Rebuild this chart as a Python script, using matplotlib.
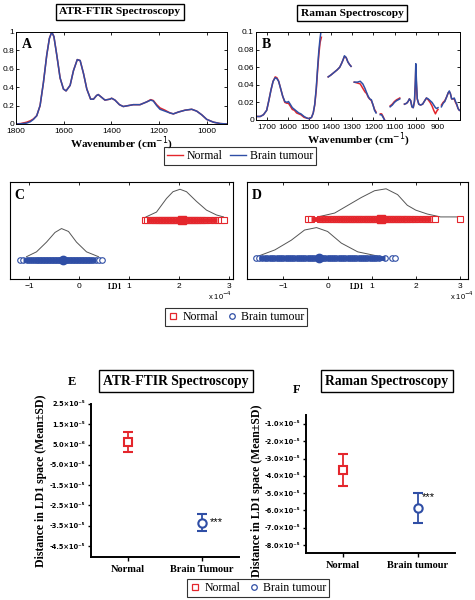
import numpy as np
import matplotlib
matplotlib.use('Agg')
import matplotlib.pyplot as plt
from matplotlib.lines import Line2D

plt.rcParams['font.family'] = 'Liberation Sans'
SERIF = 'Liberation Serif'

RED = '#e4262c'
BLUE = '#2f4ea5'
GREY = '#555555'
nan = np.nan

# ---- A: ATR-FTIR mean spectra ----
ftir_wn = [1800, 1780, 1755, 1740, 1727, 1713, 1699, 1685, 1671, 1660, 1650, 1641, 1629, 1615,
           1601, 1590, 1573, 1559, 1543, 1531, 1517, 1503, 1487, 1475, 1462, 1455, 1441, 1427,
           1406, 1399, 1385, 1366, 1350, 1329, 1308, 1280, 1252, 1235, 1224, 1210, 1196, 1175,
           1154, 1140, 1119, 1091, 1063, 1042, 1021, 1000, 972, 944, 916]
ftir_tumour = [0.0, 0.002, 0.01, 0.025, 0.05, 0.09, 0.20, 0.45, 0.75, 0.93, 1.0, 0.95, 0.75, 0.50,
               0.38, 0.36, 0.42, 0.58, 0.70, 0.69, 0.55, 0.38, 0.27, 0.27, 0.31, 0.32, 0.29, 0.26,
               0.27, 0.28, 0.26, 0.21, 0.19, 0.20, 0.21, 0.21, 0.24, 0.26, 0.25, 0.20, 0.16, 0.14,
               0.12, 0.11, 0.13, 0.15, 0.16, 0.14, 0.10, 0.05, 0.02, 0.005, 0.0]
ftir_normal = [0.0, 0.005, 0.02, 0.035, 0.055, 0.09, 0.20, 0.45, 0.75, 0.93, 1.0, 0.95, 0.75, 0.50,
               0.38, 0.36, 0.42, 0.58, 0.70, 0.69, 0.55, 0.38, 0.27, 0.27, 0.31, 0.32, 0.29, 0.26,
               0.27, 0.28, 0.26, 0.21, 0.19, 0.20, 0.21, 0.21, 0.24, 0.265, 0.255, 0.21, 0.175, 0.15,
               0.12, 0.11, 0.13, 0.15, 0.16, 0.14, 0.10, 0.05, 0.02, 0.005, 0.0]

# ---- B: Raman mean spectra (gaps = removed regions) ----
raman_wn = [1750, 1730, 1715, 1700, 1690, 1680, 1670, 1660, 1652, 1644, 1635, 1625, 1615, 1605,
            1598, 1590, 1580, 1570, 1560, 1550, 1540, 1525, 1510, 1500, 1490, 1482, 1475, 1468,
            1462, 1456, 1450, 1444, nan,
            1412, 1400, 1385, 1370, 1358, 1350, 1343, 1336, 1328, 1320, 1312, 1305, nan,
            1290, 1275, 1262, 1250, 1240, 1232, 1225, 1218, 1210, 1202, 1195, 1188, nan,
            1168, 1162, 1155, 1148, nan,
            1122, 1112, 1102, 1092, 1084, 1077, nan,
            1055, 1045, 1038, 1032, 1026, 1020, 1014, 1008, 1004, 1002, 999, 995, 988, 980, 970,
            960, 952, 944, 935, 926, 918, 910, 904, 898, nan,
            882, 874, 866, 858, 850, 845, 840, 834, 828, 822, 816, 810, 804, 798]
raman_tumour = [0.004, 0.004, 0.006, 0.011, 0.022, 0.034, 0.044, 0.048, 0.047, 0.044, 0.036, 0.027,
                0.021, 0.020, 0.021, 0.018, 0.014, 0.012, 0.010, 0.008, 0.007, 0.004, 0.002, 0.0015,
                0.003, 0.008, 0.018, 0.036, 0.058, 0.078, 0.093, 0.104, nan,
                0.049, 0.051, 0.054, 0.057, 0.060, 0.064, 0.068, 0.073, 0.071, 0.066, 0.063,
                0.061, nan,
                0.043, 0.043, 0.044, 0.041, 0.036, 0.031, 0.027, 0.024, 0.023, 0.017, 0.011, 0.008,
                nan,
                0.006, 0.006, 0.003, 0.0, nan,
                0.015, 0.017, 0.020, 0.022, 0.023, 0.024, nan,
                0.018, 0.019, 0.021, 0.024, 0.022, 0.015, 0.014, 0.022, 0.045, 0.064, 0.045, 0.024,
                0.018, 0.017, 0.018, 0.022, 0.025, 0.024, 0.022, 0.020, 0.017, 0.014, 0.013, 0.014,
                nan,
                0.015, 0.019, 0.021, 0.026, 0.031, 0.033, 0.030, 0.024, 0.024, 0.025, 0.021, 0.018,
                0.013, 0.011]
raman_normal = [0.004, 0.004, 0.006, 0.011, 0.022, 0.034, 0.044, 0.049, 0.048, 0.044, 0.036, 0.027,
                0.020, 0.019, 0.019, 0.016, 0.012, 0.011, 0.008, 0.007, 0.006, 0.003, 0.002, 0.0015,
                0.003, 0.008, 0.017, 0.034, 0.055, 0.074, 0.088, 0.094, nan,
                0.049, 0.051, 0.054, 0.057, 0.060, 0.064, 0.068, 0.072, 0.071, 0.066, 0.063,
                0.061, nan,
                0.043, 0.042, 0.041, 0.036, 0.032, 0.030, 0.026, 0.024, 0.022, 0.017, 0.012, 0.009,
                nan,
                0.007, 0.007, 0.004, 0.0, nan,
                0.016, 0.018, 0.021, 0.023, 0.024, 0.025, nan,
                0.018, 0.019, 0.021, 0.024, 0.022, 0.015, 0.014, 0.021, 0.040, 0.058, 0.040, 0.024,
                0.018, 0.017, 0.018, 0.022, 0.025, 0.023, 0.020, 0.016, 0.011, 0.007, 0.010, 0.012,
                nan,
                0.017, 0.020, 0.022, 0.026, 0.031, 0.032, 0.030, 0.024, 0.024, 0.024, 0.020, 0.017,
                0.013, 0.011]

# ---- C / D: LD1 scores (x 1e-4) ----
c_normal = [1.32, 1.36, 1.41, 1.46, 1.50, 1.54, 1.57, 1.60, 1.63, 1.66, 1.69, 1.72, 1.75, 1.78,
            1.81, 1.84, 1.87, 1.90, 1.93, 1.96, 1.99, 2.02, 2.05, 2.08, 2.11, 2.14, 2.17, 2.20,
            2.23, 2.26, 2.29, 2.32, 2.35, 2.38, 2.41, 2.45, 2.49, 2.54, 2.62, 2.70, 2.76, 2.83, 2.90]
c_tumour = [-1.18, -1.12, -1.05, -1.00, -0.96, -0.92, -0.88, -0.85, -0.82, -0.79, -0.76, -0.73,
            -0.70, -0.67, -0.64, -0.61, -0.58, -0.55, -0.52, -0.49, -0.46, -0.43, -0.40, -0.37,
            -0.34, -0.31, -0.28, -0.25, -0.22, -0.19, -0.16, -0.13, -0.10, -0.07, -0.04, -0.01,
            0.02, 0.05, 0.08, 0.11, 0.14, 0.17, 0.20, 0.24, 0.28, 0.33, 0.40, 0.46]
c_means = [2.06, -0.32]
c_curve_normal_x = [1.34, 1.55, 1.75, 1.88, 2.02, 2.15, 2.35, 2.55, 2.75, 2.89]
c_curve_normal_y = [0.64, 0.69, 0.83, 0.90, 0.925, 0.90, 0.80, 0.71, 0.66, 0.64]
c_curve_tumour_x = [-1.05, -0.85, -0.65, -0.48, -0.35, -0.21, -0.05, 0.15, 0.39]
c_curve_tumour_y = [0.23, 0.28, 0.38, 0.48, 0.52, 0.49, 0.38, 0.28, 0.23]

d_normal = [-0.45, -0.38, -0.18, -0.12, -0.05, 0.02, 0.08, 0.13, 0.18, 0.23, 0.28, 0.32, 0.36,
            0.40, 0.44, 0.48, 0.52, 0.56, 0.60, 0.64, 0.68, 0.72, 0.76, 0.80, 0.84, 0.88, 0.92,
            0.96, 1.00, 1.04, 1.08, 1.12, 1.16, 1.20, 1.24, 1.28, 1.32, 1.36, 1.40, 1.44, 1.48,
            1.52, 1.56, 1.60, 1.64, 1.68, 1.72, 1.76, 1.80, 1.85, 1.90, 1.97, 2.05, 2.13, 2.20,
            2.27, 2.34, 2.42, 3.00]
d_tumour = [-1.62, -1.55, -1.48, -1.42, -1.36, -1.30, -1.25, -1.20, -1.15, -1.10, -1.05, -1.00,
            -0.95, -0.90, -0.85, -0.80, -0.75, -0.70, -0.65, -0.60, -0.55, -0.50, -0.45, -0.40,
            -0.35, -0.30, -0.25, -0.20, -0.15, -0.10, -0.05, 0.00, 0.05, 0.10, 0.15, 0.20, 0.25,
            0.30, 0.35, 0.40, 0.45, 0.50, 0.55, 0.60, 0.65, 0.70, 0.75, 0.80, 0.85, 0.90, 0.95,
            1.00, 1.05, 1.10, 1.16, 1.30, 1.45, 1.52]
d_means = [1.20, -0.20]
d_curve_normal_x = [-0.22, 0.16, 0.46, 0.76, 1.06, 1.32, 1.58, 1.80, 1.99, 2.25, 2.55, 2.98]
d_curve_normal_y = [0.64, 0.68, 0.76, 0.84, 0.91, 0.93, 0.87, 0.76, 0.71, 0.67, 0.64, 0.64]
d_curve_tumour_x = [-1.60, -1.19, -0.82, -0.52, -0.25, 0.00, 0.31, 0.68, 1.20]
d_curve_tumour_y = [0.23, 0.30, 0.40, 0.505, 0.53, 0.49, 0.37, 0.28, 0.23]

# ---- E / F: mean +- SD of LD1 distance ----
groups_e = ['Normal', 'Brain Tumour']
groups_f = ['Normal', 'Brain tumour']
e_mean = [6.3e-6, -3.36e-5]
e_sd = [4.9e-6, 4.2e-6]
f_mean = [-3.66e-5, -5.86e-5]
f_sd = [0.95e-5, 0.87e-5]
e_ticks = [2.5e-5, 1.5e-5, 5.0e-6, -5.0e-6, -1.5e-5, -2.5e-5, -3.5e-5, -4.5e-5]
e_ticklabels = ['2.5×10⁻⁵', '1.5×10⁻⁵', '5.0×10⁻⁶', '-5.0×10⁻⁶', '-1.5×10⁻⁵', '-2.5×10⁻⁵',
                '-3.5×10⁻⁵', '-4.5×10⁻⁵']
f_ticks = [-1e-5, -2e-5, -3e-5, -4e-5, -5e-5, -6e-5, -7e-5, -8e-5]
f_ticklabels = ['-1.0×10⁻⁵', '-2.0×10⁻⁵', '-3.0×10⁻⁵', '-4.0×10⁻⁵', '-5.0×10⁻⁵', '-6.0×10⁻⁵',
                '-7.0×10⁻⁵', '-8.0×10⁻⁵']

W, H = 475, 600
fig = plt.figure(figsize=(4.75, 6.0), dpi=100)


def px_axes(left, top, right, bottom):
    return fig.add_axes([left / W, 1 - bottom / H, (right - left) / W, (bottom - top) / H])


def boxed_title(x, y, s, size):
    fig.text(x / W, 1 - y / H, s, ha='center', va='center', family=SERIF, weight='bold',
             fontsize=size, bbox=dict(boxstyle='square,pad=0.3', fc='white', ec='black', lw=1))


def matlab_style(ax):
    ax.tick_params(direction='in', top=True, right=True, labelsize=6, length=2.5, width=0.6, pad=1.5)
    ax.tick_params(axis='x', pad=3)
    for s in ax.spines.values():
        s.set_linewidth(0.7)


# A
axA = px_axes(16, 32, 227, 124)
axA.plot(ftir_wn, ftir_normal, color=RED, lw=1.1)
axA.plot(ftir_wn, ftir_tumour, color=BLUE, lw=1.1)
axA.set_xlim(1800, 915)
axA.set_ylim(0, 1)
axA.set_xticks([1800, 1600, 1400, 1200, 1000])
axA.set_yticks([0, 0.2, 0.4, 0.6, 0.8, 1])
axA.set_yticklabels(['0', '0.2', '0.4', '0.6', '0.8', '1'])
matlab_style(axA)
axA.set_xlabel('Wavenumber (cm$^{-1}$)', family=SERIF, weight='bold', fontsize=8, labelpad=0)
axA.text(0.03, 0.93, 'A', transform=axA.transAxes, family=SERIF, weight='bold', fontsize=10,
         va='top')
boxed_title(120, 12, 'ATR-FTIR Spectroscopy', 8.2)

# B
axB = px_axes(256, 32, 460, 120)
axB.plot(raman_wn, raman_normal, color=RED, lw=1.1)
axB.plot(raman_wn, raman_tumour, color=BLUE, lw=1.1)
axB.set_xlim(1750, 795)
axB.set_ylim(0, 0.1)
axB.set_xticks([1700, 1600, 1500, 1400, 1300, 1200, 1100, 1000, 900])
axB.set_yticks([0, 0.02, 0.04, 0.06, 0.08, 0.1])
axB.set_yticklabels(['0', '0.02', '0.04', '0.06', '0.08', '0.1'])
matlab_style(axB)
axB.set_xlabel('Wavenumber (cm$^{-1}$)', family=SERIF, weight='bold', fontsize=8, labelpad=0)
axB.text(0.03, 0.93, 'B', transform=axB.transAxes, family=SERIF, weight='bold', fontsize=10,
         va='top')
boxed_title(352, 13, 'Raman Spectroscopy', 8.2)

fig.legend([Line2D([], [], color=RED, lw=1), Line2D([], [], color=BLUE, lw=1)],
           ['Normal', 'Brain tumour'], loc='center', bbox_to_anchor=(240 / W, 1 - 156 / H),
           ncol=2, frameon=True, fancybox=False, edgecolor='black', handlelength=1.4,
           handletextpad=0.3, columnspacing=0.6, borderpad=0.25,
           prop=dict(family=SERIF, size=8.5)).get_frame().set_linewidth(0.8)


# C / D
def ld_panel(ax, normal, tumour, means, cnx, cny, ctx, cty, y_n, y_t, letter, xlim):
    ax.plot(cnx, cny, color=GREY, lw=0.7)
    ax.plot(ctx, cty, color=GREY, lw=0.7)
    ax.plot(normal, [y_n] * len(normal), ls='none', marker='s', ms=4, mfc='white', mec=RED, mew=0.8)
    ax.plot(tumour, [y_t] * len(tumour), ls='none', marker='o', ms=4, mfc='white', mec=BLUE, mew=0.8)
    ax.plot([min(normal[1:-1]), max(normal[1:-2])], [y_n, y_n], color=RED, lw=3.5, solid_capstyle='butt')
    ax.plot([min(tumour[1:-1]), max(tumour[1:-2])], [y_t, y_t], color=BLUE, lw=3.5, solid_capstyle='butt')
    ax.plot([means[0]], [y_n], marker='s', ms=6, color=RED)
    ax.plot([means[1]], [y_t], marker='o', ms=6, color=BLUE)
    ax.set_xlim(*xlim)
    ax.set_ylim(0, 1)
    ax.set_xticks([-1, 0, 1, 2, 3])
    ax.set_yticks([])
    ax.tick_params(direction='in', top=True, labelsize=6, length=2.5, width=0.6, pad=3)
    for s in ax.spines.values():
        s.set_linewidth(0.8)
    ax.text(0.02, 0.93, letter, transform=ax.transAxes, family=SERIF, weight='bold', fontsize=10,
            va='top')


axC = px_axes(10, 182, 233, 279)
ld_panel(axC, c_normal, c_tumour, c_means, c_curve_normal_x, c_curve_normal_y, c_curve_tumour_x,
         c_curve_tumour_y, 0.61, 0.196, 'C', (-1.38, 3.08))
axD = px_axes(247, 182, 468, 279)
ld_panel(axD, d_normal, d_tumour, d_means, d_curve_normal_x, d_curve_normal_y, d_curve_tumour_x,
         d_curve_tumour_y, 0.62, 0.216, 'D', (-1.82, 3.17))
for xl, xo in [(115, 220), (357, 462)]:
    fig.text(xl / W, 1 - 287 / H, 'LD1', ha='center', va='center', fontsize=5.5, weight='bold',
             family=SERIF)
    fig.text(xo / W, 1 - 296 / H, 'x 10$^{-4}$', ha='center', va='center', fontsize=5.5)

fig.legend([Line2D([], [], ls='none', marker='s', ms=4, mfc='white', mec=RED, mew=0.9),
            Line2D([], [], ls='none', marker='o', ms=4, mfc='white', mec=BLUE, mew=0.9)],
           ['Normal', 'Brain tumour'], loc='center', bbox_to_anchor=(236 / W, 1 - 317 / H),
           ncol=2, frameon=True, fancybox=False, edgecolor='black', handlelength=1.0,
           handletextpad=0.3, columnspacing=0.6, borderpad=0.25,
           prop=dict(family=SERIF, size=8.5)).get_frame().set_linewidth(0.8)


# E / F
def err_panel(ax, means, sds, groups, ticks, ticklabels, ylim, star_xy):
    ax.errorbar([0], [means[0]], yerr=[sds[0]], fmt='s', ms=6, mfc='white', mec=RED, mew=1.5,
                ecolor=RED, elinewidth=1.3, capsize=3.5, capthick=1.3)
    ax.errorbar([1], [means[1]], yerr=[sds[1]], fmt='o', ms=6, mfc='white', mec=BLUE, mew=1.5,
                ecolor=BLUE, elinewidth=1.3, capsize=3.5, capthick=1.3)
    ax.set_xlim(-0.5, 1.5)
    ax.set_ylim(*ylim)
    ax.set_yticks(ticks)
    ax.set_yticklabels(ticklabels, fontsize=4.8, weight='bold', family='DejaVu Sans')
    ax.set_xticks([0, 1])
    ax.set_xticklabels(groups, family=SERIF, weight='bold', fontsize=7.5)
    ax.spines['top'].set_visible(False)
    ax.spines['right'].set_visible(False)
    ax.spines['left'].set_linewidth(1.4)
    ax.spines['bottom'].set_linewidth(1.4)
    ax.tick_params(axis='y', length=2.5, width=1.0, pad=1.5)
    ax.tick_params(axis='x', length=3, width=1.0, pad=3)
    ax.set_ylabel('Distance in LD1 space (Mean±SD)', family=SERIF, weight='bold', fontsize=8.5)
    ax.text(star_xy[0], star_xy[1], '***', fontsize=8, va='center', ha='left')


axE = px_axes(91, 404, 239, 557)
err_panel(axE, e_mean, e_sd, groups_e, e_ticks, e_ticklabels, (-5.04e-5, 2.5e-5), (1.1, -3.33e-5))
axE.yaxis.set_label_coords(-0.3, 0.5)
axF = px_axes(306, 415, 455, 553)
err_panel(axF, f_mean, f_sd, groups_f, f_ticks, f_ticklabels, (-8.46e-5, -0.48e-5), (1.05, -5.25e-5))
axF.yaxis.set_label_coords(-0.29, 0.45)

fig.text(72 / W, 1 - 382 / H, 'E', family=SERIF, weight='bold', fontsize=9, ha='center', va='center')
fig.text(297 / W, 1 - 390 / H, 'F', family=SERIF, weight='bold', fontsize=9, ha='center', va='center')
boxed_title(176, 381, 'ATR-FTIR Spectroscopy', 9.8)
boxed_title(387, 381, 'Raman Spectroscopy', 9.8)

fig.legend([Line2D([], [], ls='none', marker='s', ms=4, mfc='white', mec=RED, mew=0.9),
            Line2D([], [], ls='none', marker='o', ms=4, mfc='white', mec=BLUE, mew=0.9)],
           ['Normal', 'Brain tumour'], loc='center', bbox_to_anchor=(258 / W, 1 - 588 / H),
           ncol=2, frameon=True, fancybox=False, edgecolor='black', handlelength=1.0,
           handletextpad=0.3, columnspacing=0.6, borderpad=0.25,
           prop=dict(family=SERIF, size=8.5)).get_frame().set_linewidth(0.8)

fig.savefig('out.png', dpi=100)
